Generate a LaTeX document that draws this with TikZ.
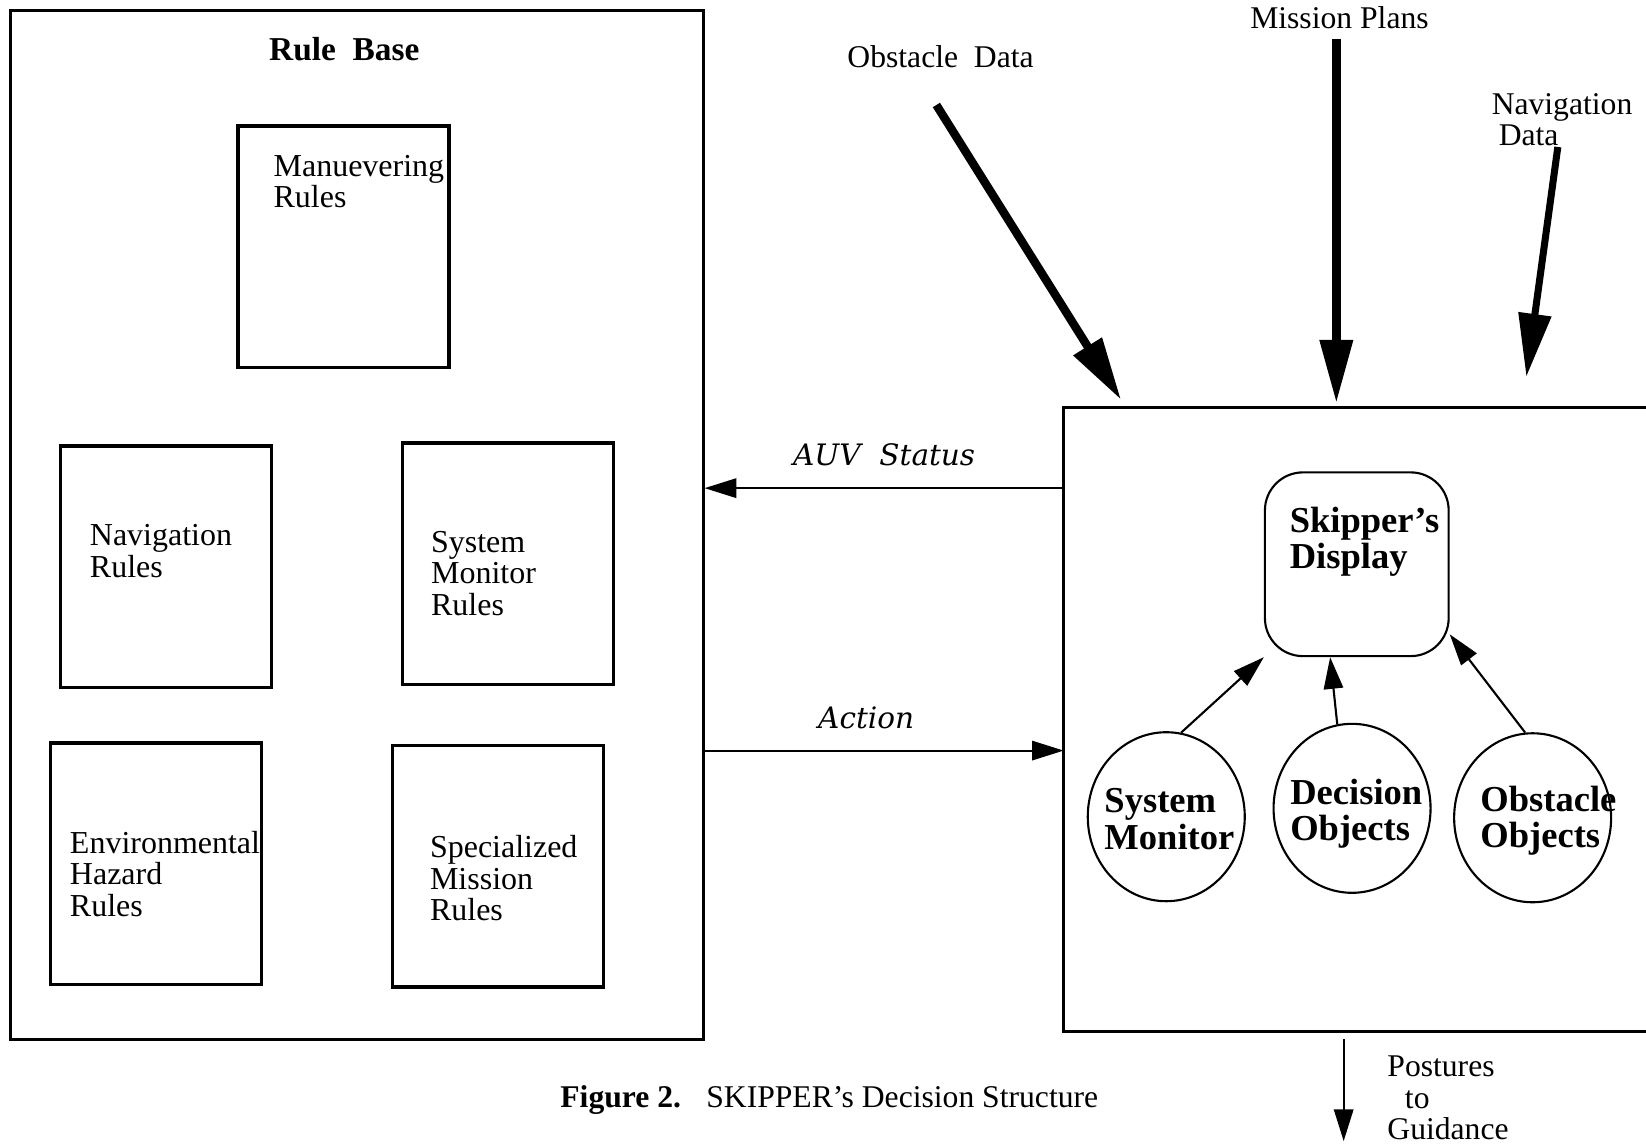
\documentclass[tikz,border=0pt]{standalone}
\usepackage{fontspec}
\newfontfamily\tms{Liberation Serif}
\newfontfamily\dvs{DejaVu Serif}
\usetikzlibrary{arrows.meta,shapes.geometric}

\tikzset{
  rulebox/.style={draw, line width=1pt, minimum width=2.11cm, minimum height=2.415cm},
  ruletxt/.style={anchor=north west, inner sep=0pt, align=left, font=\tms\fontsize{9.1}{9}\selectfont},
  objcircle/.style={draw, ellipse, line width=0.6pt, minimum width=1.57cm, minimum height=1.69cm},
  objtxt/.style={inner sep=0pt, align=left, font=\tms\bfseries\fontsize{10.4}{10.4}\selectfont},
  plaintxt/.style={inner sep=0pt, align=left, font=\tms\fontsize{9}{9}\selectfont},
  flowlbl/.style={inner sep=0pt, font=\dvs\itshape\fontsize{8.4}{10}\selectfont},
  thinarrow/.style={line width=0.6pt, -{Triangle[length=9pt,width=5.5pt]}},
  fatarrow/.style={line width=2.4pt, -{Triangle[length=18pt,width=9pt]}},
}

\begin{document}
\begin{tikzpicture}[x=0.0105cm, y=-0.0105cm]
\useasboundingbox (0,0) rectangle (1568,1090);

% rule base
\node[draw, line width=0.7pt, minimum width=6.93cm, minimum height=10.29cm] (rb) at (340,500) {};
\node[font=\tms\bfseries\fontsize{9.5}{10}\selectfont] (rbtitle) at (328,47) {Rule\ \ Base};

\node[rulebox] (man) at (327,235) {};
\node[rulebox] (nav) at (158,540) {};
\node[rulebox] (sysmon) at (484,537) {};
\node[rulebox] (env) at (148.5,823) {};
\node[rulebox] (spec) at (474.5,825) {};

\node[ruletxt] (mantxt) at (260,147) {Manuevering\\Rules};
\node[ruletxt] (navtxt) at (85,499) {Navigation\\Rules};
\node[ruletxt] (sysmontxt) at (410,505) {System\\Monitor\\Rules};
\node[ruletxt] (envtxt) at (66,791) {Environmental\\Hazard\\Rules};
\node[ruletxt] (spectxt) at (409,795) {Specialized\\Mission\\Rules};

% skipper
\node[minimum width=5.817cm, minimum height=6.2265cm] (skip) at (1291,685.5) {};
\draw[line width=0.7pt] (skip.north east) -- (skip.north west) -- (skip.south west) -- (skip.south east);

\node[draw, rounded corners=0.38cm, line width=0.6pt, minimum size=1.8375cm] (disp) at (1292.5,537.5) {};
\node[objtxt, anchor=north west] (disptxt) at (1228,482) {Skipper’s\\Display};

\node[objcircle] (smon) at (1111,778) {};
\node[objcircle] (decobj) at (1288,770) {};
\node[objcircle] (obsobj) at (1460,779) {};
\node[objtxt] (smontxt) at (1114,780) {System\\Monitor};
\node[objtxt] (decobjtxt) at (1292,775) {Decision\\Objects};
\node[objtxt] (obsobjtxt) at (1475,782) {Obstacle\\Objects};

\draw[thinarrow] (smon.80) -- (disp.225);
\draw[thinarrow] (decobj.100) -- (disp.254);
\draw[thinarrow] (obsobj.95) -- (disp.323);

% status and action
\coordinate (auvy) at (0,465);
\coordinate (acty) at (0,715);
\draw[thinarrow] (skip.west |- auvy) -- node[flowlbl, above=6pt] (auvlbl) {AUV\ \ Status} (rb.east |- auvy);
\draw[thinarrow] (rb.east |- acty) -- node[flowlbl, above=6pt, pos=0.45] (actlbl) {Action} (skip.west |- acty);

% inputs
\coordinate (od0) at (892,100);
\coordinate (od1) at (1068,381);
\coordinate (mp0) at (1273,37);
\coordinate (mp1) at (1273,384);
\coordinate (nd0) at (1484,140);
\coordinate (nd1) at (1454,359);
\node[plaintxt] (odlbl) at (896,54) {Obstacle\ \ Data};
\node[plaintxt] (mplbl) at (1276,17) {Mission Plans};
\node[plaintxt] (ndlbl) at (1488,114) {Navigation\\\hspace*{2pt}Data};
\draw[fatarrow] (od0) -- (od1);
\draw[fatarrow] (mp0) -- (mp1);
\draw[fatarrow, line width=2pt] (nd0) -- (nd1);

% output
\coordinate (pg0) at (1280,990);
\coordinate (pg1) at (1280,1087);
\draw[thinarrow] (pg0) -- (pg1);
\node[plaintxt, anchor=north west] (pglbl) at (1321,1005) {Postures\\\hspace*{5pt}to\\Guidance};

\node[plaintxt] (caption) at (790,1048) {\textbf{Figure 2.}\hspace{0.8em}SKIPPER’s Decision Structure};
\end{tikzpicture}
\end{document}
